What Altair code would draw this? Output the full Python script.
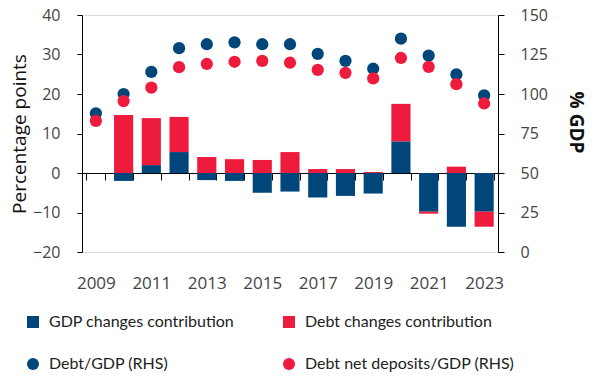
import altair as alt
import pandas as pd

years = list(range(2009, 2024))
gdp_contrib = [0, -2.0, 2.0, 5.3, -1.8, -2.0, -5.0, -4.7, -6.2, -5.8, -5.2, 8.0, -9.8, -13.6, -9.8]
debt_contrib = [0, 14.7, 11.9, 8.9, 4.05, 3.5, 3.3, 5.3, 1.0, 1.0, 0.25, 9.5, -0.5, 1.6, -3.8]
debt_gdp = [87.8, 100, 114, 129, 131.5, 132.7, 131.5, 131.5, 125.4, 121, 116, 135, 124.3, 112.4, 99.1]
debt_net = [83, 95.5, 104, 117, 119, 120.4, 121, 119.8, 115.3, 113.4, 109.9, 122.8, 117.2, 106.2, 94]

series_names = ["GDP changes contribution", "Debt changes contribution",
                "Debt/GDP (RHS)", "Debt net deposits/GDP (RHS)"]
# legend fills column by column: order so rows read GDP | Debt, Debt/GDP | Debt net
legend_order = [series_names[0], series_names[2], series_names[1], series_names[3]]
navy = "#00467A"
red = "#EE1B3D"
left_ticks = [-20, -10, 0, 10, 20, 30, 40]
right_ticks = [0, 25, 50, 75, 100, 125, 150]

W, H = 416, 237

bars = pd.DataFrame(
    [{"year": str(y), "series": series_names[0], "ord": 0, "value": v} for y, v in zip(years, gdp_contrib)]
    + [{"year": str(y), "series": series_names[1], "ord": 1, "value": v} for y, v in zip(years, debt_contrib)]
)
pts = pd.DataFrame(
    [{"year": str(y), "series": series_names[2], "value": v} for y, v in zip(years, debt_gdp)]
    + [{"year": str(y), "series": series_names[3], "value": v} for y, v in zip(years, debt_net)]
)

legend = alt.Legend(
    orient="none", legendX=-57, legendY=299, columns=2, columnPadding=46,
    rowPadding=26, symbolSize=144, labelFontSize=16, labelLimit=400,
    labelFont="Lato", labelColor="#222",
    title=None, labelOffset=8, padding=0, direction="vertical",
)
color = alt.Color(
    "series:N",
    scale=alt.Scale(domain=legend_order, range=[navy, navy, red, red]),
    legend=legend,
)
shape = alt.Shape(
    "series:N",
    scale=alt.Scale(domain=legend_order, range=["square", "circle", "square", "circle"]),
    legend=legend,
)

zero_offset = -H * (0 - left_ticks[0]) / (left_ticks[-1] - left_ticks[0])

xenc = alt.X(
    "year:O", scale=alt.Scale(paddingInner=0.31, paddingOuter=0.155), title=None,
    axis=alt.Axis(
        offset=zero_offset, tickBand="extent", tickSize=7, labelPadding=95,
        labelAngle=0, labelFontSize=17, labelColor="#444", domainColor="#000",
        tickColor="#000", labelFont="Open Sans",
        labelExpr="toNumber(datum.value) % 2 == 1 ? datum.value : ''",
    ),
)

bar_layer = alt.Chart(bars).mark_bar().encode(
    x=xenc,
    y=alt.Y(
        "value:Q", stack="zero",
        scale=alt.Scale(domain=[left_ticks[0], left_ticks[-1]], nice=False),
        axis=alt.Axis(
            values=left_ticks, title="Percentage points", grid=False, tickSize=5,
            labelPadding=17, labelFontSize=16, labelColor="#444", domainColor="#000",
            tickColor="#000", titleFontSize=19, titleFontWeight="normal", titleColor="#111",
            titleX=-63, titleY=H / 2, titleAngle=270, titleAlign="center", titleBaseline="middle",
        ),
    ),
    color=color,
    order=alt.Order("ord:Q"),
)

pt_layer = alt.Chart(pts).mark_point(filled=True, size=150, opacity=1).encode(
    x=xenc,
    y=alt.Y(
        "value:Q",
        scale=alt.Scale(domain=[right_ticks[0], right_ticks[-1]], nice=False),
        axis=alt.Axis(
            orient="right", values=right_ticks, title="% GDP", grid=False, tickSize=6,
            labelPadding=16, labelFontSize=16, labelColor="#444", domainColor="#000",
            tickColor="#000", titleFontSize=19, titleFontWeight="bold", titleColor="#111",
            titleX=77, titleY=107, titleAngle=90, titleAlign="center", titleBaseline="middle",
        ),
    ),
    color=color,
    shape=shape,
)

chart = (
    alt.layer(bar_layer, pt_layer)
    .resolve_scale(y="independent")
    .properties(
        width=W, height=H,
        autosize=alt.AutoSizeParams(type="none"),
        padding={"left": 74, "top": 7, "right": 97, "bottom": 120},
    )
    .configure_view(stroke=None)
    .configure(font="Open Sans")
)

chart.save("out.html", embed_options={"renderer": "svg", "actions": False})
